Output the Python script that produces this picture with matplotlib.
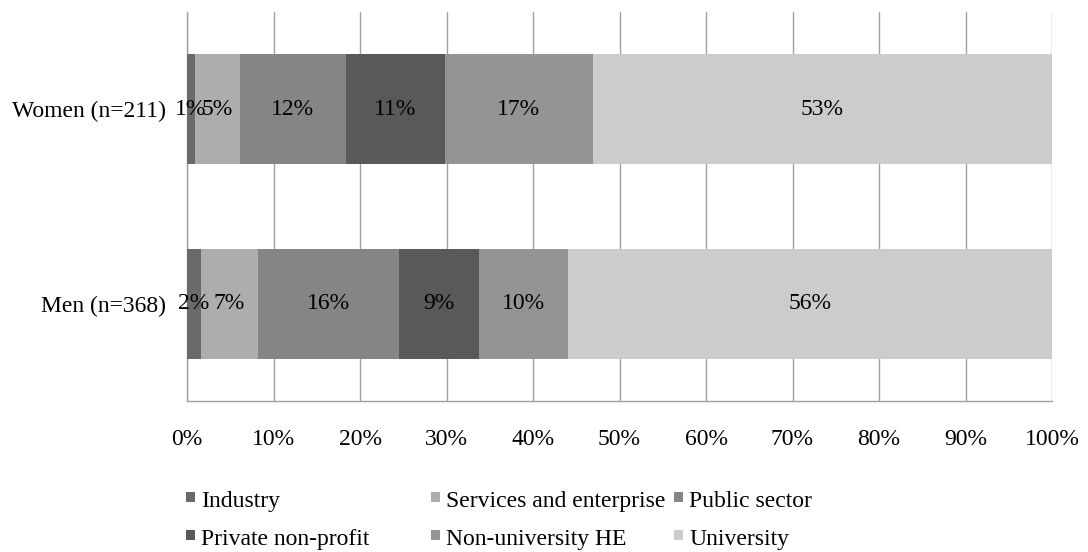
import matplotlib
matplotlib.use("Agg")
import matplotlib.pyplot as plt
from matplotlib.patches import Rectangle

plt.rcParams['font.family'] = ['Liberation Serif', 'DejaVu Serif']

groups = ["Women (n=211)", "Men (n=368)"]
sectors = ["Industry", "Services and enterprise", "Public sector",
           "Private non-profit", "Non-university HE", "University"]
women = [0.9, 5.2, 12.3, 11.4, 17.1, 53.1]
men = [1.6, 6.6, 16.3, 9.2, 10.3, 56.0]
colors = ["#6a6a6a", "#adadad", "#858585", "#595959", "#949494", "#cccccc"]
xticks = [0, 10, 20, 30, 40, 50, 60, 70, 80, 90, 100]

fig = plt.figure(figsize=(10.88, 5.52), dpi=100)
ax = fig.add_axes([187/1088, 1-401/552, 865/1088, 389/552])

series = [women, men]
FS = 17
for si, name in enumerate(sectors):
    vals = [s[si] for s in series]
    lefts = [sum(s[:si]) for s in series]
    ax.barh(range(len(groups)), vals, left=lefts, height=0.566,
            color=colors[si], zorder=3, edgecolor='none')
    for y, (l, v) in enumerate(zip(lefts, vals)):
        ax.text(l + v/2, y, f"{round(v):d}%", ha='center', va='center',
                fontsize=FS, color='black', zorder=4)

ax.set_xlim(0, 100)
ax.set_ylim(1.5, -0.5)
ax.set_yticks(range(len(groups)))
ax.set_yticklabels(groups, fontsize=FS)
ax.set_xticks(xticks)
ax.set_xticklabels([f"{t}%" for t in xticks], fontsize=FS)
ax.tick_params(axis='both', length=0)
ax.tick_params(axis='x', pad=20)
ax.tick_params(axis='y', pad=15)
ax.grid(axis='x', color='#a0a0a0', linewidth=1.0, zorder=0)
for sp in ['top', 'right']:
    ax.spines[sp].set_visible(False)
for sp in ['left', 'bottom']:
    ax.spines[sp].set_color('#a0a0a0')
    ax.spines[sp].set_linewidth(1.0)

# legend drawn manually in a 3-column grid (row-wise order)
col_x = [186, 431, 674]
row_base = [507, 545]
for i, name in enumerate(sectors):
    r, c = divmod(i, 3)
    x0, yb = col_x[c], row_base[r]
    fig.add_artist(Rectangle((x0/1088, 1-(yb-5)/552), 9/1088, 10/552,
                             transform=fig.transFigure, facecolor=colors[i],
                             edgecolor='none'))
    fig.text((x0+15)/1088, 1-yb/552, name, fontsize=FS, ha='left', va='baseline')

fig.savefig("out.png", dpi=100)
